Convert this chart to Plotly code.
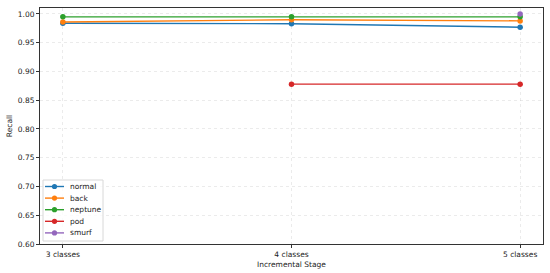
import plotly.graph_objects as go

stages = ['3 classes', '4 classes', '5 classes']

normal = [0.984, 0.983, 0.977]
back = [0.986, 0.990, 0.988]
neptune = [0.995, 0.995, 0.995]
pod = [None, 0.878, 0.878]
smurf = [None, None, 1.0]

series = [
    ('normal', normal, '#1f77b4'),
    ('back', back, '#ff7f0e'),
    ('neptune', neptune, '#2ca02c'),
    ('pod', pod, '#d62728'),
    ('smurf', smurf, '#9467bd'),
]

W, H = 550, 273
L, R, T, B = 40, 7, 8, 29
PW, PH = W - L - R, H - T - B


def px_x(x):
    return (x - L) / PW


def px_y(y):
    return (H - B - y) / PH


fig = go.Figure()
for name, vals, color in series:
    fig.add_trace(go.Scatter(
        x=stages, y=vals, name=name, mode='lines+markers',
        line=dict(color=color, width=1.4),
        marker=dict(color=color, size=5.5),
        showlegend=False,
    ))

# hand-made legend (plotly's rows are too tall for this size)
shapes = [dict(type='rect', xref='paper', yref='paper',
               x0=px_x(43), x1=px_x(103), y0=px_y(241), y1=px_y(180),
               line=dict(color='#d8d8d8', width=1), fillcolor='rgba(255,255,255,0.8)',
               layer='above')]
annotations = []
for i, (name, vals, color) in enumerate(series):
    yy = px_y(186.5 + 11.6 * i)
    shapes.append(dict(type='line', xref='paper', yref='paper',
                       x0=px_x(45), x1=px_x(64), y0=yy, y1=yy,
                       line=dict(color=color, width=1.4), layer='above'))
    shapes.append(dict(type='circle', xref='paper', yref='paper',
                       xsizemode='pixel', ysizemode='pixel',
                       xanchor=px_x(54.5), yanchor=yy,
                       x0=-2.6, x1=2.6, y0=-2.6, y1=2.6,
                       line=dict(color=color, width=0), fillcolor=color, layer='above'))
    annotations.append(dict(xref='paper', yref='paper', x=px_x(68), y=yy,
                            xanchor='left', yanchor='middle', showarrow=False,
                            text=name, font=dict(size=7.5, color='#222222')))

axis_common = dict(
    showline=True, linecolor='#333333', linewidth=1, mirror=True,
    ticks='outside', ticklen=3, tickcolor='#333333',
    gridcolor='rgba(190,190,190,0.3)', griddash='dot', gridwidth=1,
    zeroline=False, automargin=False,
    tickfont=dict(size=7.5, color='#222222'),
)

fig.update_layout(
    width=W, height=H,
    margin=dict(l=L, r=R, t=T, b=B),
    plot_bgcolor='white', paper_bgcolor='white',
    font=dict(family='DejaVu Sans', size=7.5, color='#222222'),
    xaxis=dict(axis_common, type='category', range=[-0.1, 2.1],
               title=dict(text='Incremental Stage', font=dict(size=7.5), standoff=3)),
    yaxis=dict(axis_common, range=[0.6, 1.0104], dtick=0.05, tickformat='.2f',
               title=dict(text='Recall', font=dict(size=7.5), standoff=4)),
    shapes=shapes,
    annotations=annotations,
    showlegend=False,
)

# drop the page's default body margin so the figure sits at the window corner
fig.write_html("out.html", config={'displayModeBar': False},
               post_script="document.body.style.margin='0';")
